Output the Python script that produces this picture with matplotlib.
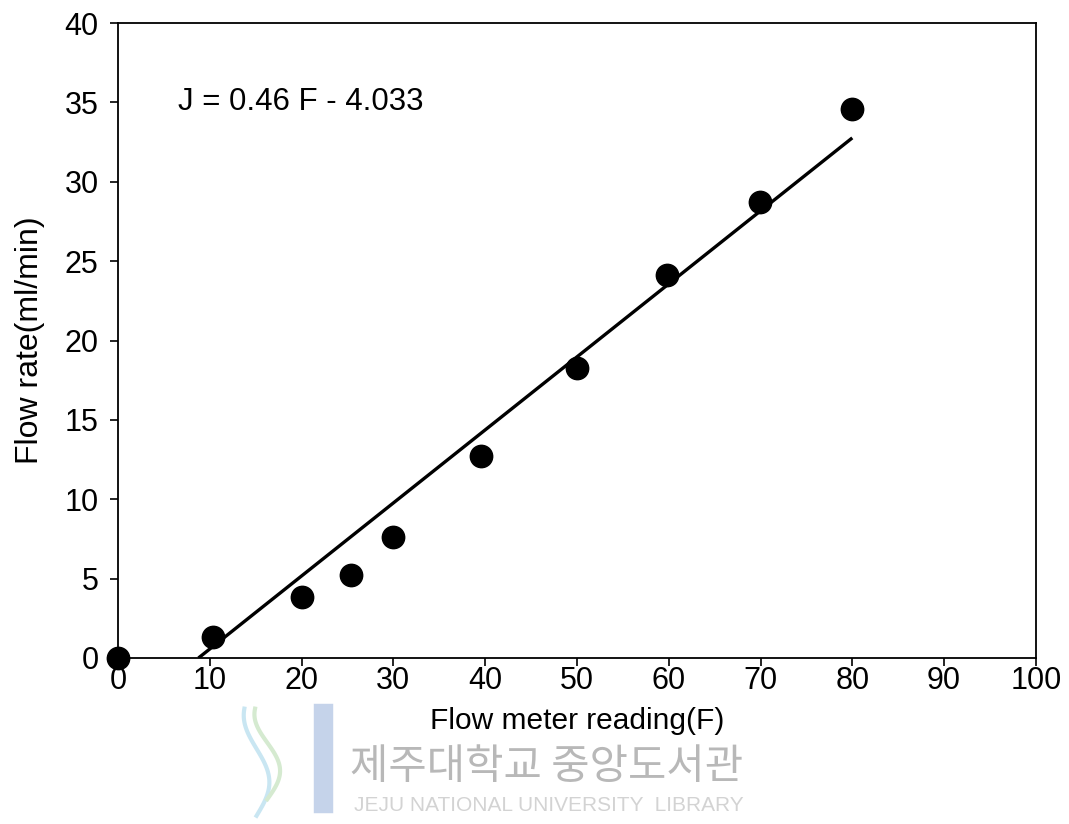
import matplotlib
matplotlib.use("Agg")
import matplotlib.pyplot as plt
import numpy as np

# readings
flow_meter = [0, 10.3, 20, 25.4, 30, 39.6, 50, 59.8, 69.9, 80]
flow_rate = [0, 1.3, 3.85, 5.2, 7.6, 12.7, 18.3, 24.1, 28.7, 34.6]

slope = 0.46
intercept = -4.033
fit_range = [-intercept / slope, 80]

x_ticks = [0, 10, 20, 30, 40, 50, 60, 70, 80, 90, 100]
y_ticks = [0, 5, 10, 15, 20, 25, 30, 35, 40]

plt.rcParams["font.family"] = ["Liberation Sans", "DejaVu Sans"]

fig = plt.figure(figsize=(10.69, 8.24), dpi=100)
ax = fig.add_axes([0.1104, 0.2015, 0.8586, 0.7705])

fx = np.array(fit_range)
ax.plot(fx, slope * fx + intercept, color="black", linewidth=2.4, solid_capstyle="butt")
ax.scatter(flow_meter, flow_rate, s=260, color="black", zorder=3, clip_on=False)

ax.set_xlim(0, 100)
ax.set_ylim(0, 40)
ax.set_xticks(x_ticks)
ax.set_yticks(y_ticks)
ax.tick_params(direction="out", length=6, width=1.2, labelsize=22)
ax.tick_params(axis="x", pad=0)
ax.tick_params(axis="y", pad=8)
for s in ax.spines.values():
    s.set_linewidth(1.3)

ax.set_xlabel("Flow meter reading(F)", fontsize=21.5, labelpad=8)
ax.set_ylabel("Flow rate(ml/min)", fontsize=23, labelpad=14)

ax.text(6.5, 35.0, "J = 0.46 F - 4.033", fontsize=22.5, va="center", ha="left")

# library watermark
fig.text(0.327, 0.068, "제주대학교 중앙도서관", fontsize=30, color="#b8b8b8",
         family=["Noto Sans CJK KR", "DejaVu Sans"], va="center", ha="left")
fig.text(0.331, 0.022, "JEJU NATIONAL UNIVERSITY  LIBRARY", fontsize=15, color="#d3d3d3",
         va="center", ha="left")

# rough logo: pale J with two swooshes
t = np.linspace(0, 1, 50)
fig.add_artist(plt.Line2D(0.302 + 0.0 * t, 0.135 - 0.11 * t, transform=fig.transFigure,
                          color="#c5d3ea", linewidth=14))
fig.add_artist(plt.Line2D(0.240 + 0.012 * np.sin(np.pi * t * 1.6), 0.01 + 0.13 * t,
                          transform=fig.transFigure, color="#c9e6f2", linewidth=3))
fig.add_artist(plt.Line2D(0.250 + 0.012 * np.sin(np.pi * t * 1.6), 0.03 + 0.11 * t,
                          transform=fig.transFigure, color="#d5ead0", linewidth=3))

fig.savefig("out.png", dpi=100)
